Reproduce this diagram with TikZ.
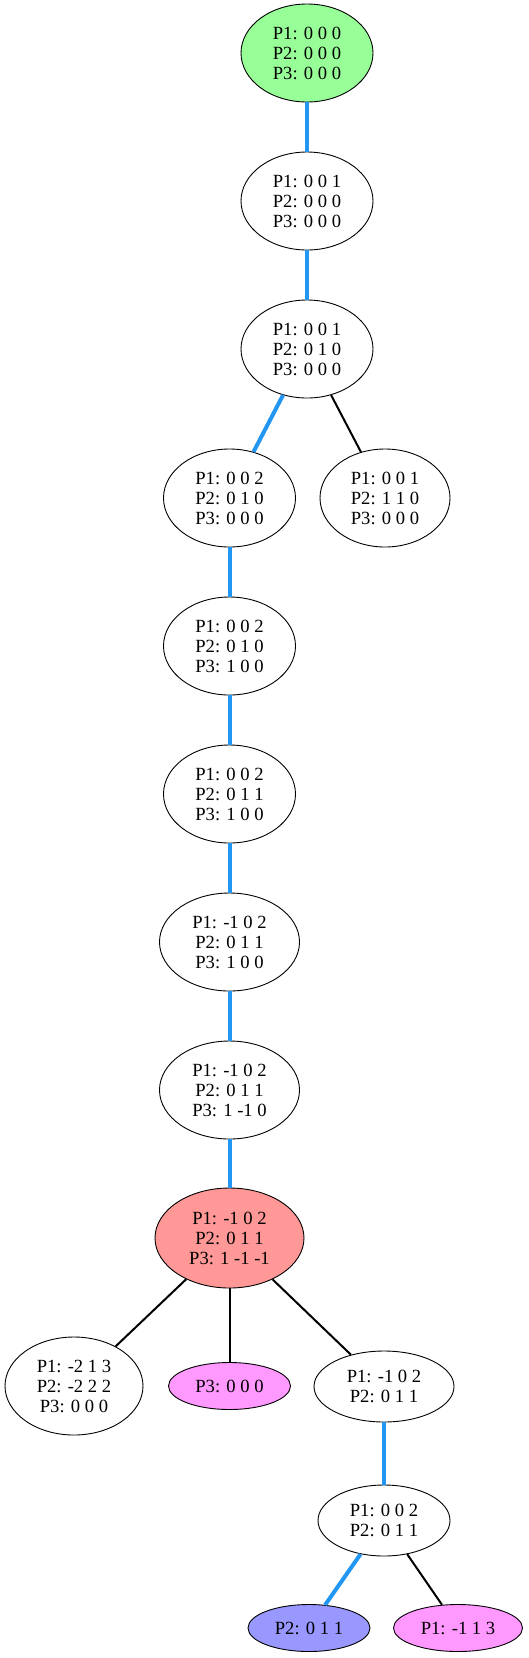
\documentclass[tikz,border=0pt]{standalone}
\usepackage{fontspec}
\setmainfont{Liberation Serif}
\usetikzlibrary{shapes.geometric}
\definecolor{gvgreen}{HTML}{98FF98}
\definecolor{gvred}{HTML}{FF9896}
\definecolor{gvpink}{HTML}{FF98FF}
\definecolor{gvblue}{HTML}{9898FF}
\definecolor{edgeblue}{HTML}{2196F3}
\tikzset{
  st/.style={ellipse, draw=black, line width=0.9pt, inner sep=0pt, align=center,
    font=\fontsize{18.6}{20}\selectfont},
  big/.style={st, minimum width=132pt, minimum height=98pt},
  mid/.style={st, minimum width=132pt, minimum height=71pt},
  small/.style={st, minimum width=122pt, minimum height=47pt},
  be/.style={draw=edgeblue, line width=4pt},
  ke/.style={draw=black, line width=2pt},
}
\begin{document}
\begin{tikzpicture}[x=1pt,y=-1pt]
\useasboundingbox (0,0) rectangle (529,1658);
\node[big, fill=gvgreen] (n0) at (307,53) {P1: 0 0 0\\P2: 0 0 0\\P3: 0 0 0};
\node[big] (n1) at (307,201) {P1: 0 0 1\\P2: 0 0 0\\P3: 0 0 0};
\node[big] (n2) at (307,349) {P1: 0 0 1\\P2: 0 1 0\\P3: 0 0 0};
\node[big] (n3) at (229.5,498) {P1: 0 0 2\\P2: 0 1 0\\P3: 0 0 0};
\node[big, minimum width=130pt] (n4) at (385,498) {P1: 0 0 1\\P2: 1 1 0\\P3: 0 0 0};
\node[big] (n5) at (229.5,646) {P1: 0 0 2\\P2: 0 1 0\\P3: 1 0 0};
\node[big] (n6) at (229.5,794) {P1: 0 0 2\\P2: 0 1 1\\P3: 1 0 0};
\node[big, minimum width=140pt] (n7) at (229.5,942) {P1: -1 0 2\\P2: 0 1 1\\P3: 1 0 0};
\node[big, minimum width=140pt] (n8) at (229.5,1090) {P1: -1 0 2\\P2: 0 1 1\\P3: 1 -1 0};
\node[big, fill=gvred, minimum width=149pt, minimum height=100pt] (n9) at (229.5,1238) {P1: -1 0 2\\P2: 0 1 1\\P3: 1 -1 -1};
\node[big, minimum width=138pt] (n10) at (74,1386) {P1: -2 1 3\\P2: -2 2 2\\P3: 0 0 0};
\node[small, fill=gvpink] (n11) at (229.5,1386) {P3: 0 0 0};
\node[mid, minimum width=140pt] (n12) at (384,1386.5) {P1: -1 0 2\\P2: 0 1 1};
\node[mid] (n13) at (384,1520.5) {P1: 0 0 2\\P2: 0 1 1};
\node[small, fill=gvblue] (n14) at (309,1628) {P2: 0 1 1};
\node[small, fill=gvpink, minimum width=129pt] (n15) at (458,1628) {P1: -1 1 3};
\draw[be] (n0) -- (n1);
\draw[be] (n1) -- (n2);
\draw[be] (n2) -- (n3);
\draw[ke] (n2) -- (n4);
\draw[be] (n3) -- (n5);
\draw[be] (n5) -- (n6);
\draw[be] (n6) -- (n7);
\draw[be] (n7) -- (n8);
\draw[be] (n8) -- (n9);
\draw[ke] (n9) -- (n10);
\draw[ke] (n9) -- (n11);
\draw[ke] (n9) -- (n12);
\draw[be] (n12) -- (n13);
\draw[be] (n13) -- (n14);
\draw[ke] (n13) -- (n15);
\end{tikzpicture}
\end{document}
